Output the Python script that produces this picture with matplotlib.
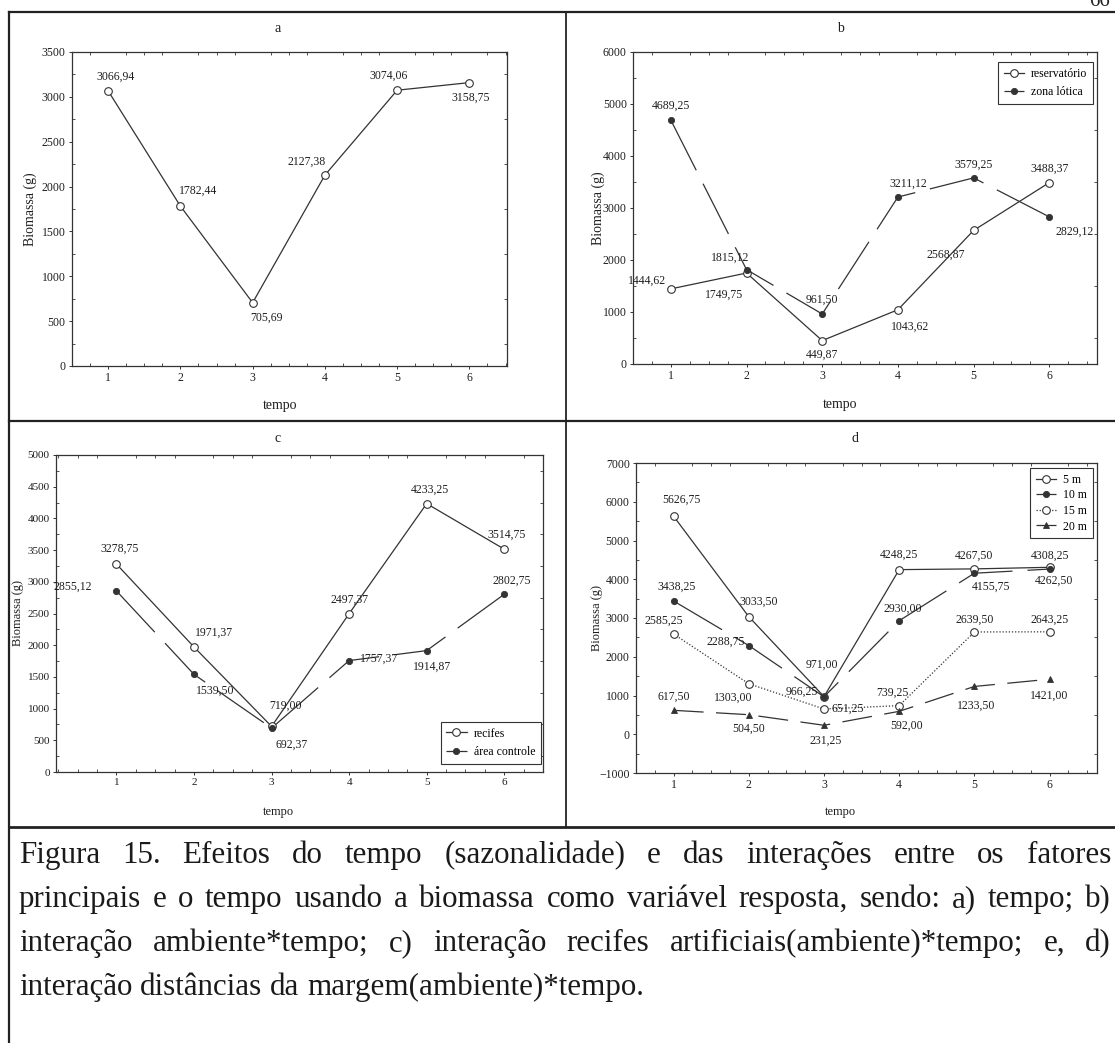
import matplotlib
matplotlib.use('Agg')
import matplotlib.pyplot as plt
from matplotlib.lines import Line2D
from matplotlib.ticker import MultipleLocator

plt.rcParams['font.family'] = ['Liberation Serif', 'DejaVu Serif']

# ---------------- data ----------------
tempo = [1, 2, 3, 4, 5, 6]

a_biomassa = [3066.94, 1782.44, 705.69, 2127.38, 3074.06, 3158.75]

b_reservatorio = [1444.62, 1749.75, 449.87, 1043.62, 2568.87, 3488.37]
b_zona_lotica = [4689.25, 1815.12, 961.50, 3211.12, 3579.25, 2829.12]

c_recifes = [3278.75, 1971.37, 719.00, 2497.37, 4233.25, 3514.75]
c_area_controle = [2855.12, 1539.50, 692.37, 1757.37, 1914.87, 2802.75]

d_5m = [5626.75, 3033.50, 971.00, 4248.25, 4267.50, 4308.25]
d_10m = [3438.25, 2288.75, 966.25, 2930.00, 4155.75, 4262.50]
d_15m = [2585.25, 1303.00, 651.25, 739.25, 2639.50, 2643.25]
d_20m = [617.50, 504.50, 231.25, 592.00, 1233.50, 1421.00]

caption_lines = [
    "Figura 15. Efeitos do tempo (sazonalidade) e das interações entre os fatores",
    "principais e o tempo usando a biomassa como variável resposta, sendo: a) tempo; b)",
    "interação ambiente*tempo; c) interação recifes artificiais(ambiente)*tempo; e, d)",
    "interação distâncias da margem(ambiente)*tempo.",
]

# ---------------- figure ----------------
W, H = 1115, 1043
fig = plt.figure(figsize=(W / 100, H / 100), dpi=100)
INK = '#333333'
TXT = '#1e1e1e'
TICK_SIZE = 8.5
LAB_SIZE = 8.5


def px_axes(l, t, r, b):
    return fig.add_axes([l / W, 1 - b / H, (r - l) / W, (b - t) / H])


def fig_line(x0, y0, x1, y1, lw=1.6):
    fig.add_artist(Line2D([x0 / W, x1 / W], [1 - y0 / H, 1 - y1 / H],
                          transform=fig.transFigure, color='#222222', lw=lw))


def fmt(v):
    return f"{v:.2f}".replace('.', ',')


def style_axes(ax, xlim, ylim, ymajor, yminor, tsize=TICK_SIZE):
    ax.set_xlim(*xlim)
    ax.set_ylim(*ylim)
    ax.set_xticks(tempo)
    ax.yaxis.set_major_locator(MultipleLocator(ymajor))
    ax.yaxis.set_minor_locator(MultipleLocator(yminor))
    ax.xaxis.set_minor_locator(MultipleLocator(0.25))
    for s in ax.spines.values():
        s.set_color(INK)
        s.set_linewidth(0.9)
    ax.tick_params(which='major', axis='both', direction='out', length=2.5,
                   width=0.7, color=INK, labelsize=tsize, labelcolor=TXT,
                   pad=2)
    ax.tick_params(which='both', right=True, top=True)
    ax.tick_params(which='minor', axis='y', length=2.5, direction='in', width=0.6,
                   color=INK)
    ax.tick_params(which='minor', axis='x', length=2, direction='in', width=0.6,
                   color=INK)
    for t in ax.yaxis.get_ticklines()[1::2]:
        t.set_markersize(0)
    for t in ax.xaxis.get_ticklines()[1::2]:
        t.set_markersize(0)


def label_points(ax, ys, offsets, size=LAB_SIZE):
    for x, y, (dx, dy) in zip(tempo, ys, offsets):
        ax.annotate(fmt(y), (x, y), xytext=(dx, dy), textcoords='offset pixels',
                    ha='center', va='center', fontsize=size, color=TXT)


def set_labels(ax, l, t, r, b, ylab_x, xlab_x, xlab_y, size):
    ax.set_ylabel('Biomassa (g)', fontsize=size, color=TXT)
    ax.yaxis.set_label_coords((ylab_x - l) / (r - l), 0.5)
    ax.set_xlabel('tempo', fontsize=size, color=TXT)
    ax.xaxis.set_label_coords((xlab_x - l) / (r - l), -(xlab_y - b) / (b - t))
    ax.xaxis.label.set_va('center')
    ax.yaxis.label.set_va('center')


def make_legend(ax, loc, anchor, spacing):
    leg = ax.legend(loc=loc, bbox_to_anchor=anchor, borderaxespad=0,
                    fontsize=8.5, frameon=True, fancybox=False, edgecolor=INK,
                    handlelength=1.7, borderpad=0.5, labelspacing=spacing,
                    handletextpad=0.6, framealpha=1)
    leg.get_frame().set_linewidth(0.8)
    return leg


OPEN = dict(marker='o', markersize=5.5, markerfacecolor='white',
            markeredgecolor=INK, markeredgewidth=0.8)
FILLED = dict(marker='o', markersize=4.5, markerfacecolor='#333333',
              markeredgecolor='#333333', markeredgewidth=0.6)
TRI = dict(marker='^', markersize=5, markerfacecolor='#333333',
           markeredgecolor='#333333', markeredgewidth=0.6)
LONGDASH = (0, (45, 12))

# ---------------- frame lines ----------------
fig_line(9, 12, 1115, 12)
fig_line(9, 12, 9, 1043)
fig_line(566, 12, 566, 827, lw=1.3)
fig_line(9, 421, 1115, 421)
fig_line(9, 827, 1115, 827, lw=2.0)
# page number, partly outside the top edge as in the scanned page
fig.text(1100 / W, 1 - 2 / H, '66', ha='center', va='center', fontsize=15,
         color='#222222')

# ---------------- panel a ----------------
La, Ta, Ra, Ba = 72, 52, 507, 366
axa = px_axes(La, Ta, Ra, Ba)
style_axes(axa, (0.5, 6.52), (0, 3500), 500, 250)
axa.plot(tempo, a_biomassa, color=INK, lw=0.9, **OPEN)
label_points(axa, a_biomassa, [(7, 14), (18, 15), (14, -15), (-18, 13), (-9, 14), (1, -15)])
set_labels(axa, La, Ta, Ra, Ba, 30, 280, 405, 10)
fig.text(278 / W, 1 - 29 / H, 'a', ha='center', va='center', fontsize=10, color=TXT)

# ---------------- panel b ----------------
Lb, Tb, Rb, Bb = 633, 52, 1097, 364
axb = px_axes(Lb, Tb, Rb, Bb)
style_axes(axb, (0.5, 6.63), (0, 6000), 1000, 500)
axb.plot(tempo, b_reservatorio, color=INK, lw=0.9, label='reservatório', **OPEN)
axb.plot(tempo, b_zona_lotica, color=INK, lw=0.9, linestyle=LONGDASH,
         label='zona lótica', **FILLED)
label_points(axb, b_reservatorio, [(-24, 8), (-22, -22), (0, -14), (12, -17), (-28, -24), (0, 14)])
label_points(axb, b_zona_lotica, [(0, 14), (-16, 12), (0, 14), (10, 13), (0, 13), (25, -15)])
set_labels(axb, Lb, Tb, Rb, Bb, 598, 840, 405, 10)
make_legend(axb, 'upper right', (1 - 4 / (Rb - Lb), 1 - 10 / (Bb - Tb)), 0.55)
fig.text(840 / W, 1 - 29 / H, 'b', ha='center', va='center', fontsize=10, color=TXT)

# ---------------- panel c ----------------
Lc, Tc, Rc, Bc = 56, 455, 543, 772
axc = px_axes(Lc, Tc, Rc, Bc)
style_axes(axc, (0.22, 6.5), (0, 5000), 500, 250, tsize=8)
axc.plot(tempo, c_recifes, color=INK, lw=0.9, label='recifes', **OPEN)
axc.plot(tempo, c_area_controle, color=INK, lw=0.9, linestyle=LONGDASH,
         label='área controle', **FILLED)
label_points(axc, c_recifes, [(3, 15), (20, 14), (14, 21), (0, 14), (3, 14), (2, 14)])
label_points(axc, c_area_controle, [(-44, 4), (21, -16), (20, -17), (30, 2), (5, -16), (8, 14)])
set_labels(axc, Lc, Tc, Rc, Bc, 18, 278, 812, 9)
make_legend(axc, 'lower right', (1 - 2 / (Rc - Lc), 8 / (Bc - Tc)), 0.55)
fig.text(278 / W, 1 - 438 / H, 'c', ha='center', va='center', fontsize=10, color=TXT)

# ---------------- panel d ----------------
Ld, Td, Rd, Bd = 636, 463, 1097, 773
axd = px_axes(Ld, Td, Rd, Bd)
style_axes(axd, (0.5, 6.63), (-1000, 7000), 1000, 500)
axd.plot(tempo, d_5m, color=INK, lw=0.9, label='5 m', **OPEN)
axd.plot(tempo, d_10m, color=INK, lw=0.9, linestyle=LONGDASH, label='10 m', **FILLED)
axd.plot(tempo, d_15m, color=INK, lw=0.9, linestyle=(0, (1, 1.5)), label='15 m', **OPEN)
axd.plot(tempo, d_20m, color=INK, lw=0.9, linestyle=(0, (24, 10)), label='20 m', **TRI)
label_points(axd, d_5m, [(8, 16), (10, 15), (-2, 32), (0, 15), (0, 13), (0, 12)])
label_points(axd, d_10m, [(3, 14), (-23, 4), (-22, 5), (4, 12), (17, -14), (4, -12)])
label_points(axd, d_15m, [(-10, 13), (-16, -14), (24, 0), (-7, 13), (0, 12), (0, 12)])
label_points(axd, d_20m, [(0, 14), (0, -14), (2, -15), (7, -14), (2, -19), (0, -17)])
set_labels(axd, Ld, Td, Rd, Bd, 597, 840, 812, 9)
make_legend(axd, 'upper right', (1 - 4 / (Rd - Ld), 1 - 5 / (Bd - Td)), 0.3)
fig.text(855 / W, 1 - 438 / H, 'd', ha='center', va='center', fontsize=10, color=TXT)

# ---------------- caption (justified) ----------------
x_left, x_right = 19, 1111
baselines = [863, 907, 951, 995]
renderer = fig.canvas.get_renderer()

# size chosen so the second line is slightly narrower than the column
probe = fig.text(0, 0, caption_lines[1], fontsize=20)
natural = probe.get_window_extent(renderer).width
probe.remove()
CAP_SIZE = 20 * 0.955 * (x_right - x_left) / natural

sp = fig.text(0, 0, 'a a', fontsize=CAP_SIZE)
sp2 = fig.text(0, 0, 'aa', fontsize=CAP_SIZE)
space_w = sp.get_window_extent(renderer).width - sp2.get_window_extent(renderer).width
sp.remove()
sp2.remove()

for i, (line, yb) in enumerate(zip(caption_lines, baselines)):
    words = line.split(' ')
    texts = [fig.text(0, 1 - yb / H, w, fontsize=CAP_SIZE, ha='left', va='baseline',
                      color='#1a1a1a') for w in words]
    widths = [t.get_window_extent(renderer).width for t in texts]
    if i < len(caption_lines) - 1:
        gap = (x_right - x_left - sum(widths)) / (len(words) - 1)
    else:
        gap = space_w
    x = x_left
    for t, w in zip(texts, widths):
        t.set_x(x / W)
        x += w + gap

fig.savefig('out.png', dpi=100)
